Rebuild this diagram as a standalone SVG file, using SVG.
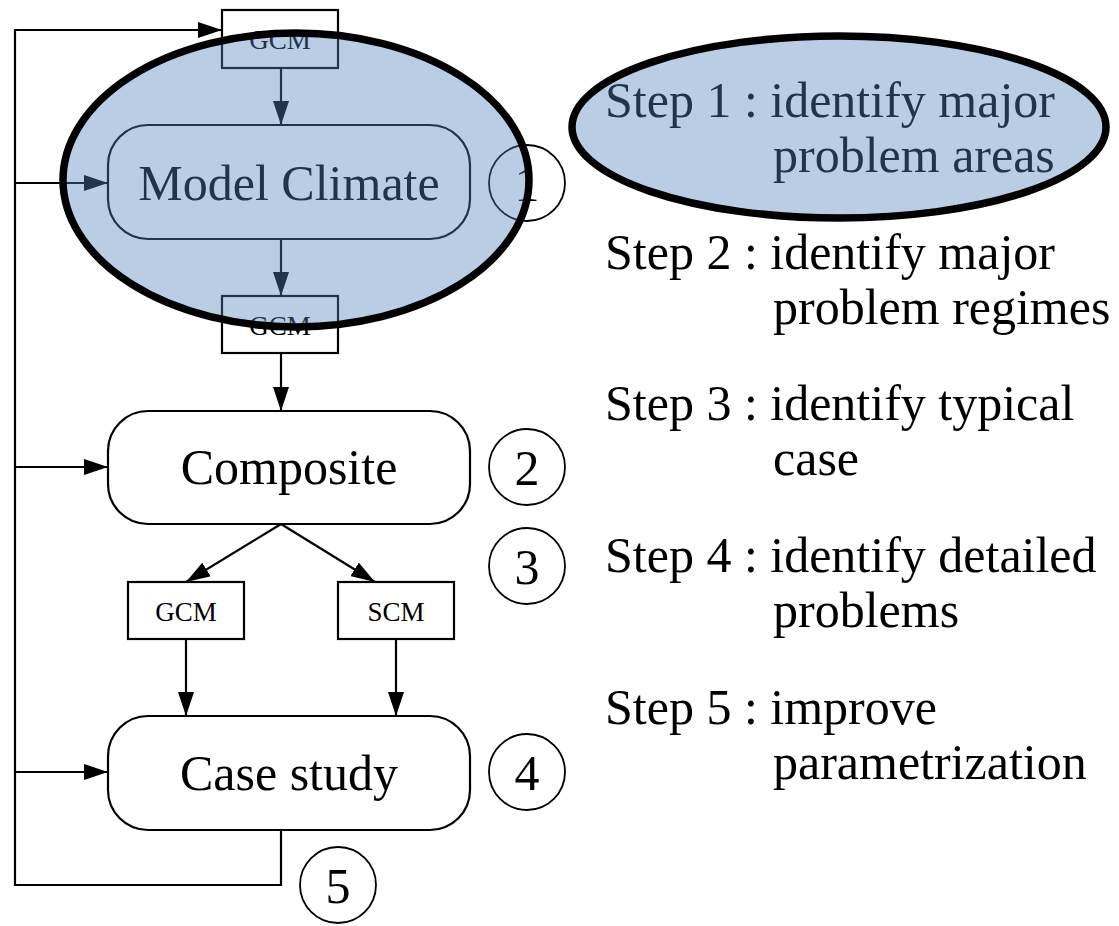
<svg xmlns="http://www.w3.org/2000/svg" width="1119" height="926" viewBox="0 0 1119 926">
<defs>
<marker id="arr" markerUnits="userSpaceOnUse" markerWidth="24" markerHeight="16" refX="24" refY="8" orient="auto">
<path d="M0,0 L24,8 L0,16 z" fill="#000"/>
</marker>
<style>
.conn{fill:none;stroke:#000;stroke-width:2.2}
.arrow{marker-end:url(#arr)}
.proc rect{fill:#fff;stroke:#000;stroke-width:2.2}
.box rect{fill:#fff;stroke:#000;stroke-width:2.2}
.num circle{fill:#fff;stroke:#000;stroke-width:1.8}
text{font-family:"Liberation Serif","Times New Roman",serif;fill:#000}
.big{font-size:50px;text-anchor:middle}
.small{font-size:27px;text-anchor:middle}
.step{font-size:50px}
.hl{fill:#4F81BD;fill-opacity:0.4;stroke:#000;stroke-width:7.5}
</style>
</defs>
<rect width="1119" height="926" fill="#fff"/>

<g id="connectors">
<polyline class="conn arrow" points="281,830 281,885 15,885 15,30 222,30"/>
<line class="conn arrow" x1="15" y1="183" x2="108" y2="183"/>
<line class="conn arrow" x1="15" y1="467" x2="108" y2="467"/>
<line class="conn arrow" x1="15" y1="772" x2="108" y2="772"/>
<line class="conn arrow" x1="281" y1="68" x2="281" y2="125"/>
<line class="conn arrow" x1="281" y1="239" x2="281" y2="296"/>
<line class="conn arrow" x1="281" y1="353" x2="281" y2="411"/>
<line class="conn arrow" x1="281" y1="524" x2="186" y2="582"/>
<line class="conn arrow" x1="281" y1="524" x2="375" y2="582"/>
<line class="conn arrow" x1="186" y1="639" x2="186" y2="716"/>
<line class="conn arrow" x1="396" y1="639" x2="396" y2="716"/>
</g>

<g id="gcm-top" class="box"><rect x="222" y="10" width="116" height="58"/><text class="small" x="280" y="49">GCM</text></g>
<g id="model-climate" class="proc"><rect x="108" y="125" width="362" height="114" rx="40" ry="40"/><text class="big" x="289" y="200">Model Climate</text></g>
<g id="gcm-mid" class="box"><rect x="222" y="296" width="116" height="57"/><text class="small" x="280" y="335">GCM</text></g>
<g id="composite" class="proc"><rect x="108" y="411" width="362" height="113" rx="40" ry="40"/><text class="big" x="289" y="484">Composite</text></g>
<g id="gcm-left" class="box"><rect x="128" y="582" width="116" height="57"/><text class="small" x="186" y="621">GCM</text></g>
<g id="scm" class="box"><rect x="338" y="582" width="116" height="57"/><text class="small" x="396" y="621">SCM</text></g>
<g id="case-study" class="proc"><rect x="108" y="716" width="362" height="114" rx="40" ry="40"/><text class="big" x="289" y="790">Case study</text></g>

<g id="step-num-1" class="num"><circle cx="527" cy="183" r="38"/><text class="big" x="527" y="201">1</text></g>
<g id="step-num-2" class="num"><circle cx="527" cy="467" r="38"/><text class="big" x="527" y="485">2</text></g>
<g id="step-num-3" class="num"><circle cx="527" cy="566" r="38"/><text class="big" x="527" y="584">3</text></g>
<g id="step-num-4" class="num"><circle cx="527" cy="772" r="38"/><text class="big" x="527" y="790">4</text></g>
<g id="step-num-5" class="num"><circle cx="338" cy="885" r="38"/><text class="big" x="338" y="903">5</text></g>

<g id="steps-text">
<text class="step" x="605" y="117">Step 1 : identify major</text>
<text class="step" x="773" y="172">problem areas</text>
<text class="step" x="605" y="269">Step 2 : identify major</text>
<text class="step" x="773" y="324">problem regimes</text>
<text class="step" x="605" y="420">Step 3 : identify typical</text>
<text class="step" x="773" y="475">case</text>
<text class="step" x="605" y="572">Step 4 : identify detailed</text>
<text class="step" x="773" y="627">problems</text>
<text class="step" x="605" y="724">Step 5 : improve</text>
<text class="step" x="773" y="779">parametrization</text>
</g>

<g id="highlight-area"><ellipse class="hl" cx="296" cy="180" rx="233" ry="147"/></g>
<g id="highlight-step1"><ellipse class="hl" cx="839" cy="127" rx="267" ry="91"/></g>
</svg>
